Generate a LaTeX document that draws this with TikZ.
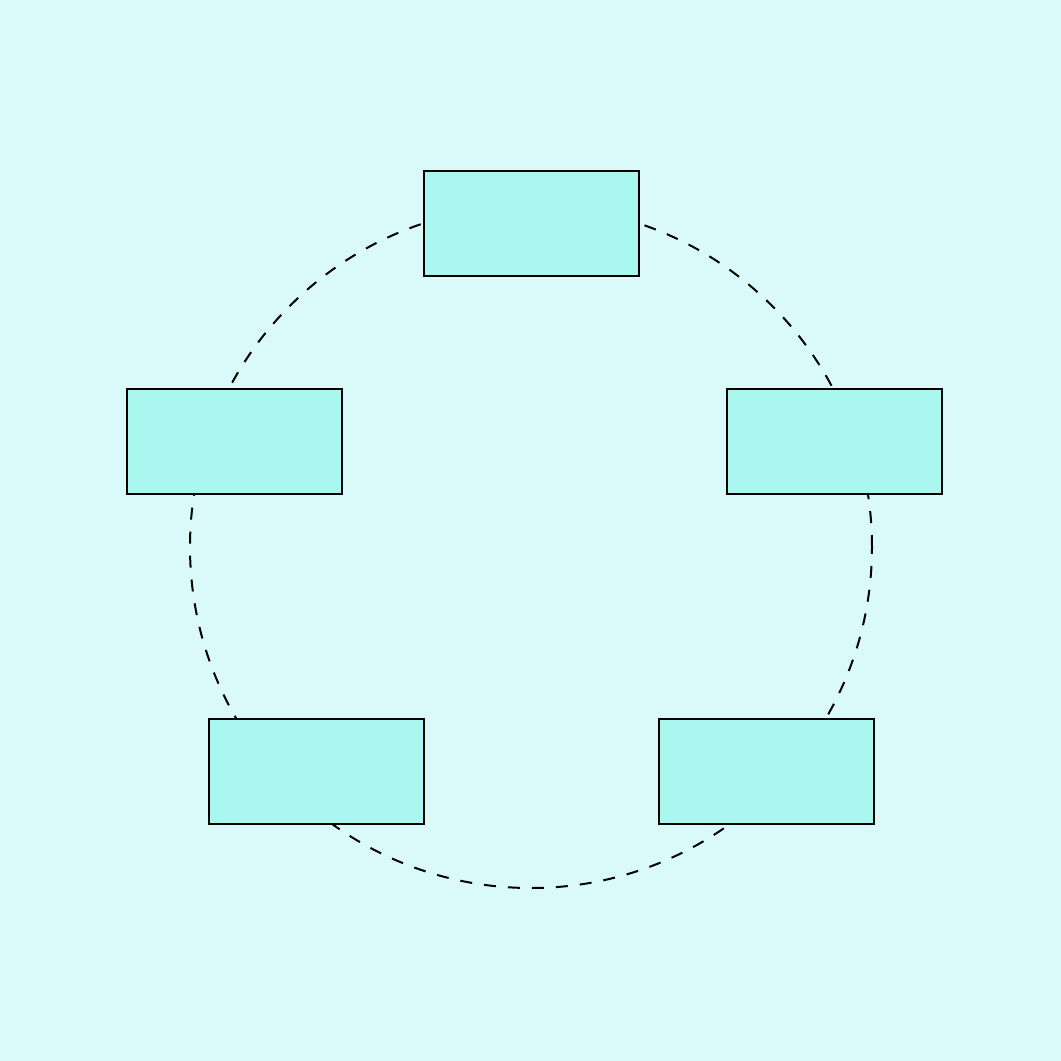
\documentclass[tikz,border=0pt]{standalone}
\definecolor{bgc}{HTML}{DAFAF9}
\definecolor{boxc}{HTML}{A9F7EF}
\begin{document}
\begin{tikzpicture}[x=1pt,y=-1pt,
  box/.style={draw=black, fill=boxc, line width=2pt, minimum width=215pt, minimum height=105pt, inner sep=0pt, outer sep=0pt},
  ring/.style={draw=black, line width=2pt, dash pattern=on 12pt off 12pt}]
\fill[bgc] (0,0) rectangle (1061,1061);
\useasboundingbox (0,0) rectangle (1061,1061);
\coordinate (c) at (531,547);
\draw[ring] (c) circle[radius=341pt];
\node[box] (top) at (531.5,223.5) {};
\node[box] (left) at (234.5,441) {};
\node[box] (right) at (834.5,441) {};
\node[box] (bl) at (316.5,771.5) {};
\node[box] (br) at (766.5,771.5) {};
\end{tikzpicture}
\end{document}
